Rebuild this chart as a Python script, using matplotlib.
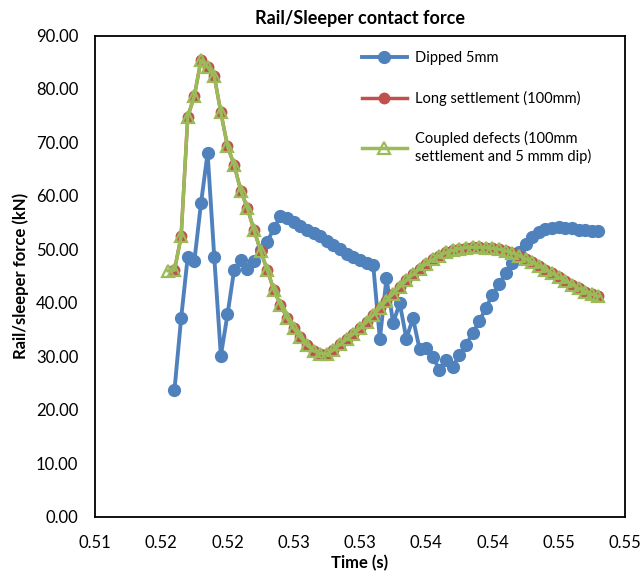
import matplotlib
matplotlib.use("Agg")
import matplotlib.pyplot as plt
import numpy as np

plt.rcParams['font.family'] = ['Lato', 'DejaVu Sans']

# time grid: 0.516 s onwards, 0.5 ms step
t0 = 0.516
dt = 0.0005

dipped = [23.7, 37.1, 48.6, 47.8, 58.6, 68.0, 48.6, 30.1, 37.8, 46.1,
          48.0, 46.4, 47.8, 49.8, 51.4, 53.9, 56.2, 55.8, 55.2, 54.3,
          53.7, 53.0, 52.4, 51.6, 50.8, 50.0, 49.2, 48.6, 48.0, 47.5,
          47.0, 33.2, 44.6, 36.2, 39.9, 33.3, 37.1, 31.3, 31.5, 29.9,
          27.4, 29.3, 28.0, 30.2, 32.1, 34.3, 36.5, 39.0, 41.5, 43.5,
          45.5, 47.5, 49.5, 51.0, 52.3, 53.2, 53.8, 54.0, 54.1, 54.0,
          53.9, 53.7, 53.6, 53.5, 53.4]

settlement = [46.1, 52.4, 74.8, 78.7, 85.4, 84.1, 82.4, 75.6, 69.3, 65.8,
              61.0, 57.7, 53.6, 49.7, 46.1, 42.4, 39.6, 37.1, 35.2, 33.6,
              32.1, 31.0, 30.5, 30.4, 31.2, 32.2, 33.2, 34.2, 35.2, 36.4,
              37.7, 39.0, 40.4, 41.7, 43.0, 44.2, 45.3, 46.4, 47.3, 48.1,
              48.8, 49.4, 49.8, 50.1, 50.3, 50.4, 50.4, 50.3, 50.2, 50.0,
              49.7, 49.3, 48.8, 48.2, 47.6, 46.9, 46.2, 45.5, 44.8, 44.1,
              43.4, 42.7, 42.1, 41.6, 41.2]

# coupled case has one extra sample at the start (0.5155 s)
coupled = [46.0, 46.1, 52.4, 74.8, 78.7, 85.4, 84.1, 82.4, 75.6, 69.3, 65.8,
           61.0, 57.7, 53.6, 49.7, 46.1, 42.4, 39.6, 37.1, 35.2, 33.6,
           32.1, 31.0, 30.5, 30.4, 31.2, 32.2, 33.2, 34.2, 35.2, 36.4,
           37.7, 39.0, 40.4, 41.7, 43.0, 44.2, 45.3, 46.4, 47.3, 48.1,
           48.8, 49.4, 49.8, 50.1, 50.3, 50.4, 50.4, 50.3, 50.2, 50.0,
           49.7, 49.3, 48.8, 48.2, 47.6, 46.9, 46.2, 45.5, 44.8, 44.1,
           43.4, 42.7, 42.1, 41.6, 41.2]

xticks = [0.510, 0.515, 0.520, 0.525, 0.530, 0.535, 0.540, 0.545, 0.550]
xlabels = ["0.51", "0.52", "0.52", "0.53", "0.53", "0.54", "0.54", "0.55", "0.55"]
yticks = [0, 10, 20, 30, 40, 50, 60, 70, 80, 90]

t_dip = t0 + dt * np.arange(len(dipped))
t_set = t0 + dt * np.arange(len(settlement))
t_cpl = t0 - dt + dt * np.arange(len(coupled))

fig = plt.figure(figsize=(6.41, 5.73), dpi=100)
ax = fig.add_axes([0.1482, 0.0986, 0.8268, 0.8394])

ax.plot(t_dip, dipped, '-o', color='#4F81BD', lw=2.8, ms=8.5,
        label="Dipped 5mm", zorder=3)
ax.plot(t_set, settlement, '-o', color='#C0504D', lw=2.5, ms=7.5,
        label="Long settlement (100mm)", zorder=4)
ax.plot(t_cpl, coupled, '-^', color='#9BBB59', lw=2.5, ms=8,
        mfc='none', mec='#9BBB59', mew=1.6,
        label="Coupled defects (100mm\nsettlement and 5 mmm dip)", zorder=5)

ax.set_xlim(0.510, 0.550)
ax.set_ylim(0, 90)
ax.set_xticks(xticks)
ax.set_xticklabels(xlabels)
ax.set_yticks(yticks)
ax.set_yticklabels(["%.2f" % v for v in yticks])
ax.tick_params(length=0, labelsize=12)
ax.tick_params(axis='x', pad=13)
ax.tick_params(axis='y', pad=12)

for s in ax.spines.values():
    s.set_color('black')
    s.set_linewidth(1.3)

ax.set_title("Rail/Sleeper contact force", fontsize=13, fontweight='bold', pad=8)
ax.set_xlabel("Time (s)", fontsize=12, fontweight='bold', labelpad=3)
ax.set_ylabel("Rail/sleeper force (kN)", fontsize=12, fontweight='bold', labelpad=5)

ax.legend(loc='upper right', bbox_to_anchor=(0.962, 0.995), frameon=False,
          fontsize=10.5, handlelength=3.1, labelspacing=1.75, handletextpad=0.6)

fig.savefig("out.png", dpi=100)
